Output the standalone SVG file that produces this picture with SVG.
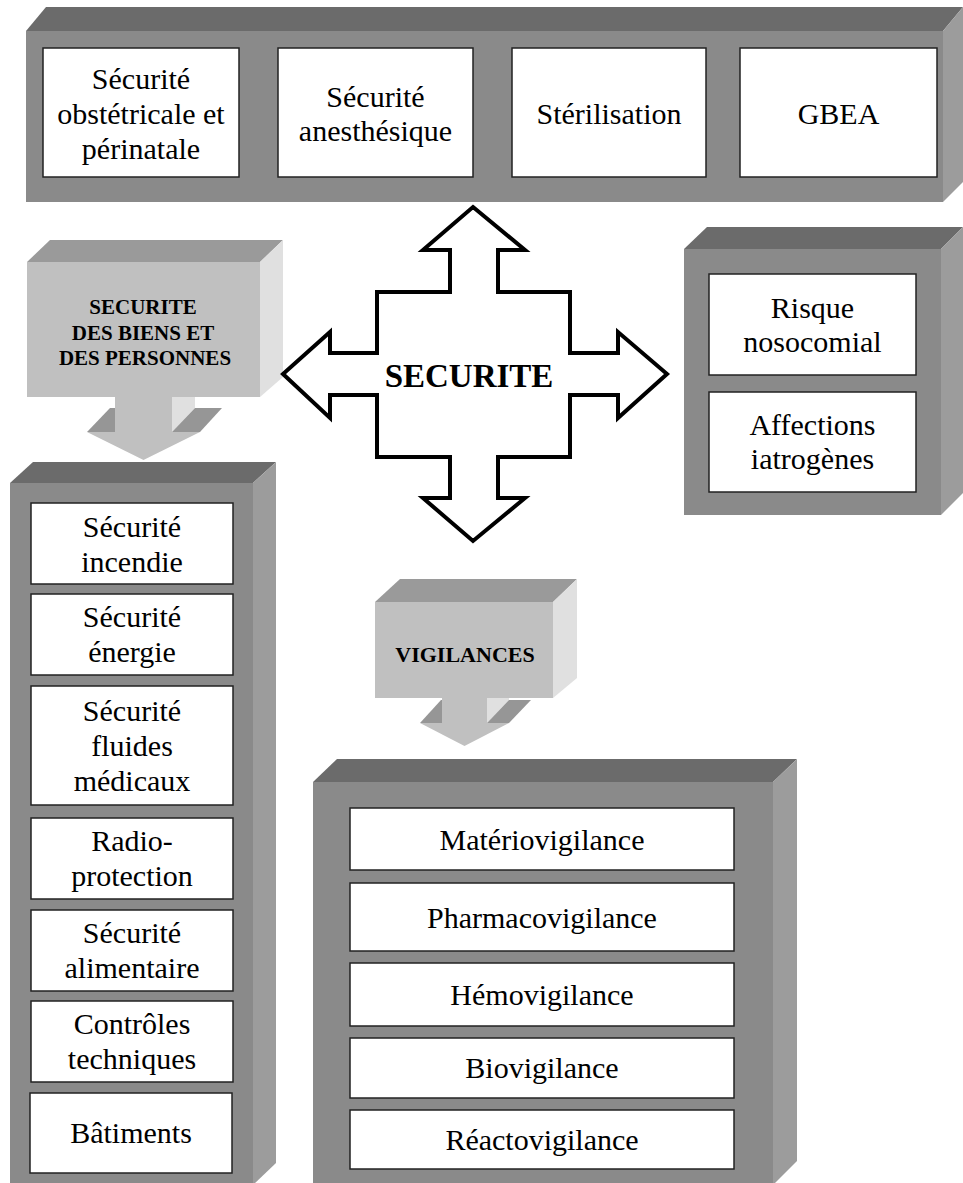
<svg xmlns="http://www.w3.org/2000/svg" width="963" height="1183" viewBox="0 0 963 1183">
<style>
.front{fill:#8a8a8a}
.top{fill:#6b6b6b}
.side{fill:#9c9c9c}
.cfront{fill:#c0c0c0}
.ctop{fill:#9a9a9a}
.cside{fill:#e0e0e0}
.cdark{fill:#969696}
.item{fill:#ffffff;stroke:#222222;stroke-width:1.5}
.t{font-family:"Liberation Serif","Times New Roman",serif;font-size:30px;fill:#000;text-anchor:middle}
.b{font-family:"Liberation Serif","Times New Roman",serif;font-weight:bold;fill:#000;text-anchor:middle}
.arrow{fill:#ffffff;stroke:#000;stroke-width:4;stroke-linejoin:miter}
</style>
<rect width="963" height="1183" fill="#ffffff"/>

<g id="top-box">
  <polygon class="top" points="26,31 46,7 963,7 943,31"/>
  <polygon class="side" points="943,31 963,7 963,182 943,202"/>
  <rect class="front" x="26" y="31" width="917" height="171"/>
  <rect class="item" x="43" y="48" width="196" height="129"/>
  <text class="t" x="141" y="89">Sécurité</text>
  <text class="t" x="141" y="124">obstétricale et</text>
  <text class="t" x="141" y="159">périnatale</text>
  <rect class="item" x="278" y="48" width="195" height="129"/>
  <text class="t" x="375.5" y="107">Sécurité</text>
  <text class="t" x="375.5" y="141">anesthésique</text>
  <rect class="item" x="512" y="48" width="194" height="129"/>
  <text class="t" x="609" y="124">Stérilisation</text>
  <rect class="item" x="740" y="48" width="197" height="129"/>
  <text class="t" x="838.5" y="124">GBEA</text>
</g>

<g id="callout-biens">
  <polygon class="ctop" points="27,262 50,240 283,240 260,262"/>
  <polygon class="cside" points="260,262 283,240 283,377 260,397"/>
  <rect class="cfront" x="27" y="262" width="233" height="135"/>
  <polygon class="cside" points="172,397 195,397 195,408 172,432"/>
  <polygon class="cdark" points="172,432 200,432 222,408 195,408"/>
  <polygon class="cdark" points="87,432 115,432 115,408 110,408"/>
  <rect class="cfront" x="115" y="397" width="57" height="35"/>
  <polygon class="cfront" points="87,432 200,432 143.5,460"/>
  <text class="b" font-size="21" x="143" y="314">SECURITE</text>
  <text class="b" font-size="21" x="143" y="340">DES BIENS ET</text>
  <text class="b" font-size="21" x="145" y="365">DES PERSONNES</text>
</g>

<g id="securite">
  <path class="arrow" d="M473,207 L525,250 L498,250 L498,292 L570,292 L570,353 L618,353 L618,332 L667,374 L618,418 L618,395 L570,395 L570,457 L498,457 L498,498 L525,498 L473,541 L423,498 L450,498 L450,457 L377,457 L377,395 L330,395 L330,418 L283,374 L330,332 L330,353 L377,353 L377,292 L450,292 L450,250 L423,250 Z"/>
  <text class="b" font-size="33" x="469" y="387">SECURITE</text>
</g>

<g id="risque-box">
  <polygon class="top" points="684,249 707,227 963,227 941,249"/>
  <polygon class="side" points="941,249 963,227 963,493 941,515"/>
  <rect class="front" x="684" y="249" width="257" height="266"/>
  <rect class="item" x="709" y="274" width="207" height="101"/>
  <text class="t" x="812.5" y="318">Risque</text>
  <text class="t" x="812.5" y="352">nosocomial</text>
  <rect class="item" x="709" y="392" width="207" height="100"/>
  <text class="t" x="812.5" y="435">Affections</text>
  <text class="t" x="812.5" y="469">iatrogènes</text>
</g>

<g id="biens-box">
  <polygon class="top" points="10,483 33,462 276,462 253,483"/>
  <polygon class="side" points="253,483 276,462 276,1163 253,1185"/>
  <rect class="front" x="10" y="483" width="243" height="702"/>
  <rect class="item" x="31" y="503" width="202" height="81"/>
  <text class="t" x="132" y="537">Sécurité</text>
  <text class="t" x="132" y="572">incendie</text>
  <rect class="item" x="31" y="594" width="202" height="81"/>
  <text class="t" x="132" y="627">Sécurité</text>
  <text class="t" x="132" y="662">énergie</text>
  <rect class="item" x="31" y="686" width="202" height="119"/>
  <text class="t" x="132" y="721">Sécurité</text>
  <text class="t" x="132" y="756">fluides</text>
  <text class="t" x="132" y="791">médicaux</text>
  <rect class="item" x="31" y="818" width="202" height="81"/>
  <text class="t" x="132" y="851">Radio-</text>
  <text class="t" x="132" y="886">protection</text>
  <rect class="item" x="31" y="910" width="202" height="81"/>
  <text class="t" x="132" y="943">Sécurité</text>
  <text class="t" x="132" y="978">alimentaire</text>
  <rect class="item" x="31" y="1001" width="202" height="81"/>
  <text class="t" x="132" y="1034">Contrôles</text>
  <text class="t" x="132" y="1069">techniques</text>
  <rect class="item" x="30" y="1093" width="202" height="80"/>
  <text class="t" x="131" y="1143">Bâtiments</text>
</g>

<g id="callout-vigilances">
  <polygon class="ctop" points="375,602 400,579 577,579 553,602"/>
  <polygon class="cside" points="553,602 577,579 577,678 553,698"/>
  <rect class="cfront" x="375" y="602" width="178" height="96"/>
  <polygon class="cside" points="487,698 509,698 509,700 487,723"/>
  <polygon class="cdark" points="487,723 509,723 531,700 509,700"/>
  <polygon class="cdark" points="420,723 442,723 442,700 441,700"/>
  <rect class="cfront" x="442" y="698" width="45" height="25"/>
  <polygon class="cfront" points="420,723 509,723 464.5,746"/>
  <text class="b" font-size="22" x="465" y="662">VIGILANCES</text>
</g>

<g id="vigilances-box">
  <polygon class="top" points="313,782 337,759 797,759 773,782"/>
  <polygon class="side" points="773,782 797,759 797,1161 773,1185"/>
  <rect class="front" x="313" y="782" width="460" height="403"/>
  <rect class="item" x="350" y="808" width="384" height="62"/>
  <text class="t" x="542" y="850">Matériovigilance</text>
  <rect class="item" x="350" y="883" width="384" height="68"/>
  <text class="t" x="542" y="928">Pharmacovigilance</text>
  <rect class="item" x="350" y="963" width="384" height="63"/>
  <text class="t" x="542" y="1005">Hémovigilance</text>
  <rect class="item" x="350" y="1038" width="384" height="60"/>
  <text class="t" x="542" y="1078">Biovigilance</text>
  <rect class="item" x="350" y="1110" width="384" height="59"/>
  <text class="t" x="542" y="1150">Réactovigilance</text>
</g>

<g id="connectors"></g>
</svg>
